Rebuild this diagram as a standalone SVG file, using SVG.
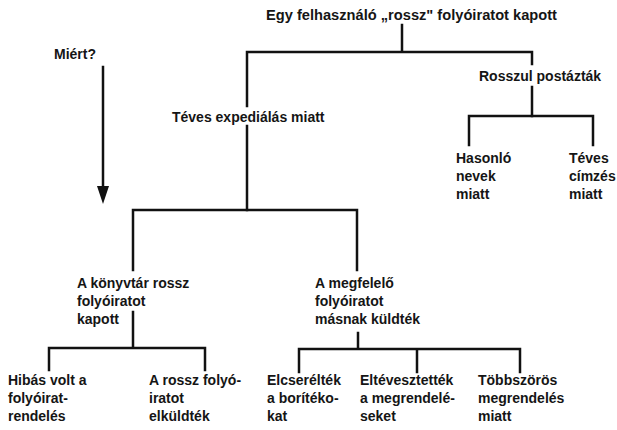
<svg xmlns="http://www.w3.org/2000/svg" width="617" height="430" viewBox="0 0 617 430">
<style>
text{font-family:"Liberation Sans",Arial,sans-serif;font-size:14px;font-weight:bold;fill:#151515}
.c path{fill:none;stroke:#111;stroke-width:2.5;stroke-linecap:square}
.c .ah{fill:#111;stroke:none}
</style>
<rect width="617" height="430" fill="#fff"/>
<g class="c" id="connectors">
<path d="M402,25 V52 M247,52 H532 M247,52 V106 M247,126 V210 M532,52 V64 M532,87 V116"/>
<path d="M469,116 H593 M469,116 V145 M593,116 V145"/>
<path d="M133,210 H357 M133,210 V270 M357,210 V270"/>
<path d="M133,312 V348 M49,348 H205 M49,348 V370 M205,348 V370"/>
<path d="M358,333 V349 M299,349 H520 M299,349 V372 M417,349 V372 M520,349 V372"/>
<path d="M103,67 V188"/>
<path class="ah" d="M97,186 L109,186 L103,204 Z"/>
</g>
<g id="n-root"><text x="266" y="20" textLength="291" lengthAdjust="spacingAndGlyphs">Egy felhasználó „rossz" folyóiratot kapott</text></g>
<g id="n-miert"><text x="54" y="59">Miért?</text></g>
<g id="n-teves-exp"><text x="172" y="122">Téves expediálás miatt</text></g>
<g id="n-rosszul"><text x="479" y="81">Rosszul postázták</text></g>
<g id="n-hasonlo"><text x="456" y="163">Hasonló</text><text x="456" y="181">nevek</text><text x="456" y="199">miatt</text></g>
<g id="n-teves-cim"><text x="569" y="163">Téves</text><text x="569" y="181">címzés</text><text x="569" y="199">miatt</text></g>
<g id="n-konyvtar"><text x="77" y="288">A könyvtár rossz</text><text x="77" y="306">folyóiratot</text><text x="77" y="324">kapott</text></g>
<g id="n-megfelelo"><text x="315" y="288">A megfelelő</text><text x="315" y="306">folyóiratot</text><text x="315" y="324">másnak küldték</text></g>
<g id="n-hibas"><text x="8" y="385">Hibás volt a</text><text x="8" y="403">folyóirat-</text><text x="8" y="421">rendelés</text></g>
<g id="n-rossz"><text x="149" y="385">A rossz folyó-</text><text x="149" y="403">iratot</text><text x="149" y="421">elküldték</text></g>
<g id="n-elcsereltek"><text x="267" y="385">Elcserélték</text><text x="267" y="403">a borítéko-</text><text x="267" y="421">kat</text></g>
<g id="n-eltevesztettek"><text x="360" y="385">Eltévesztették</text><text x="360" y="403">a megrendelé-</text><text x="360" y="421">seket</text></g>
<g id="n-tobbszoros"><text x="478" y="385">Többszörös</text><text x="478" y="403">megrendelés</text><text x="478" y="421">miatt</text></g>
</svg>
